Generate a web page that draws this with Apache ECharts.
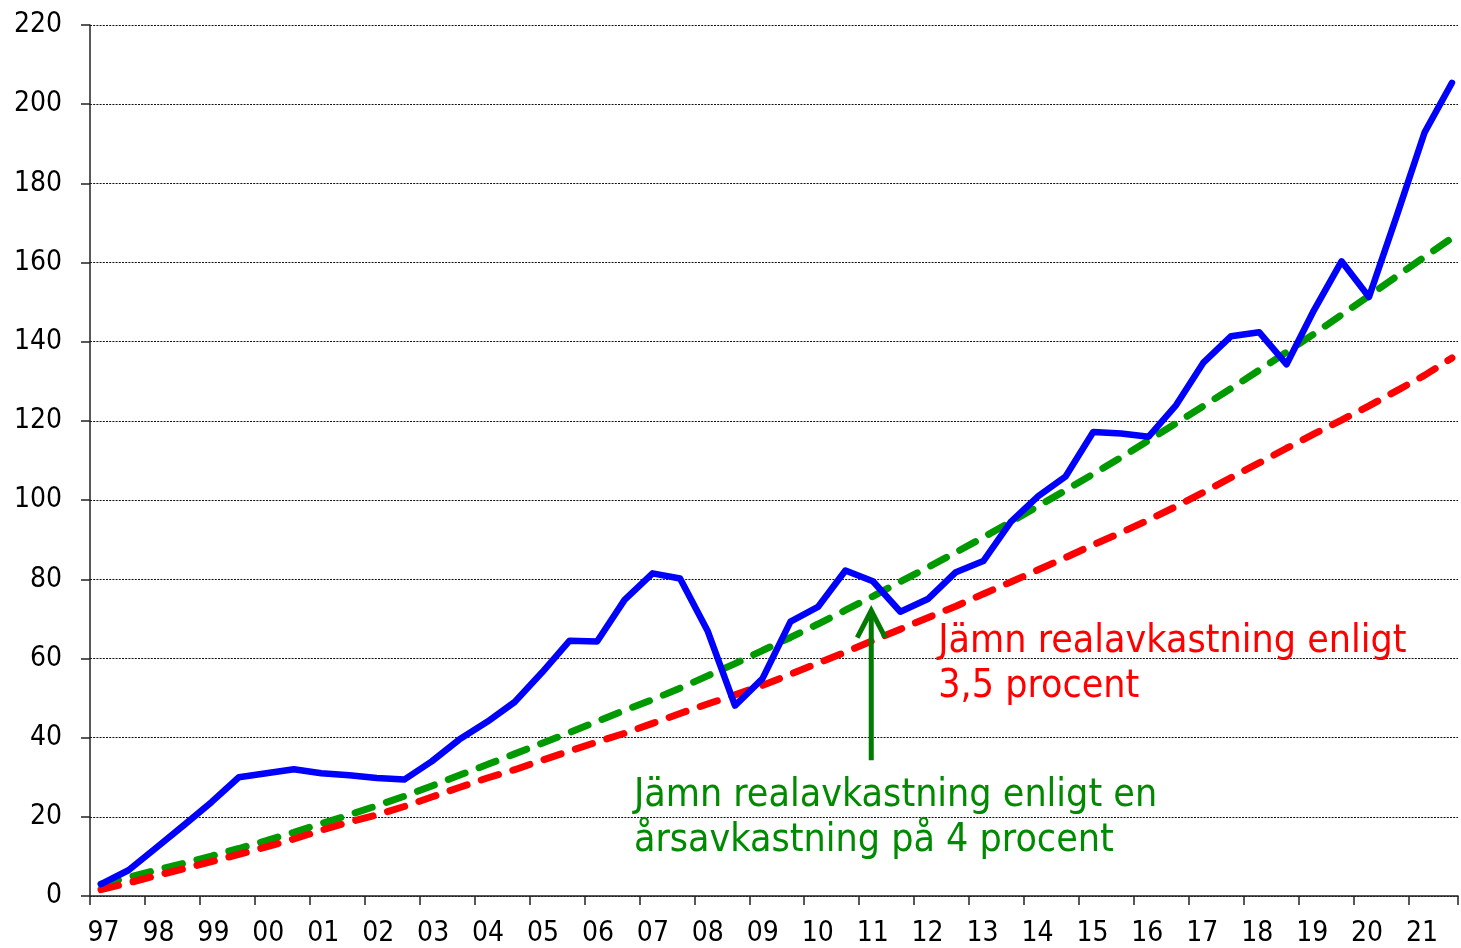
<!DOCTYPE html>
<html><head><meta charset="utf-8">
<script src="https://cdn.jsdelivr.net/npm/echarts@6/dist/echarts.min.js"></script>
<style>html,body{margin:0;padding:0;background:#fff}#c{width:1461px;height:948px}</style>
</head><body><div id="c"></div>
<script>
// Half-yearly observation times (decimal years)
const times = [1997.20,1997.70,1998.20,1998.71,1999.21,1999.71,2000.21,2000.71,2001.21,2001.72,
  2002.22,2002.72,2003.22,2003.72,2004.23,2004.73,2005.23,2005.73,2006.23,2006.73,
  2007.24,2007.74,2008.24,2008.74,2009.24,2009.75,2010.25,2010.75,2011.25,2011.75,
  2012.25,2012.76,2013.26,2013.76,2014.26,2014.76,2015.26,2015.77,2016.27,2016.77,
  2017.27,2017.77,2018.28,2018.78,2019.28,2019.78,2020.28,2020.78,2021.29,2021.79];
// Actual cumulative real return (blue)
const actual = [3.0,6.5,12.1,17.9,23.7,30.0,31.0,32.0,31.0,30.5,
  29.8,29.4,34.0,39.5,44.0,49.0,56.5,64.5,64.3,74.8,
  81.5,80.2,67.0,48.1,54.9,69.3,73.0,82.2,79.5,71.8,
  75.0,81.8,84.6,94.5,101.0,106.0,117.2,116.8,116.0,124.0,
  134.8,141.4,142.4,134.3,148.0,160.3,151.3,171.6,192.8,205.4];
// Even real return, 4 percent (green dashed)
const even4 = [3.0,4.7,6.5,8.3,10.1,12.0,14.0,16.1,18.3,20.5,
  22.8,25.2,27.8,30.5,33.2,35.9,38.6,41.3,44.1,46.9,
  49.6,52.5,55.6,58.7,62.0,65.3,68.7,72.2,75.7,79.4,
  83.0,86.8,90.6,94.5,98.5,102.5,106.6,110.8,115.1,119.4,
  123.8,128.2,132.8,137.4,142.0,146.8,151.6,156.5,161.4,166.2];
// Even real return, 3.5 percent (red dashed)
const even35 = [1.6,3.3,5.1,6.9,8.7,10.5,12.4,14.4,16.6,18.7,
  20.5,22.6,25.0,27.4,29.8,31.9,34.3,36.6,38.9,41.1,
  43.6,46.1,48.5,50.8,53.2,56.0,58.8,61.6,64.5,67.4,
  70.3,73.2,76.3,79.3,82.4,85.5,88.7,91.8,95.0,98.4,
  102.0,105.7,109.4,113.1,116.7,120.2,123.8,127.6,131.5,135.9];
const xTickLabels = ['97','98','99','00','01','02','03','04','05','06','07','08','09',
  '10','11','12','13','14','15','16','17','18','19','20','21'];
const yTickValues = [0,20,40,60,80,100,120,140,160,180,200,220];
const redText = 'Jämn realavkastning enligt\n3,5 procent';
const redTextAt = [2012.44, 58.4];
const greenText = 'Jämn realavkastning enligt en\nårsavkastning på 4 procent';
const greenTextAt = [2006.90, 19.6];
const arrowBase = [2011.22, 34.3];
const arrowTip = [2011.22, 72.1];

const FONT = "'DejaVu Sans Condensed','DejaVu Sans',sans-serif";
const chart = echarts.init(document.getElementById('c'), null, {renderer:'canvas'});
const pairs = arr => times.map((t,i)=>[t,arr[i]]);
chart.setOption({
  animation:false,
  backgroundColor:'#fff',
  grid:{left:90,right:0,top:25,bottom:50,containLabel:false},
  xAxis:{type:'value',min:1997,max:2021.9,interval:1,
    axisLine:{show:true,onZero:false,lineStyle:{color:'#222',width:1.5}},
    axisTick:{show:true,length:9,lineStyle:{color:'#222',width:1.5}},
    splitLine:{show:false},
    axisLabel:{fontFamily:FONT,fontSize:28,color:'#000',margin:24,padding:[0,0,0,27],
      formatter:v=>xTickLabels[Math.round(v-1997)]||''}},
  yAxis:{type:'value',min:yTickValues[0],max:yTickValues[yTickValues.length-1],interval:20,
    axisLine:{show:true,lineStyle:{color:'#222',width:1.5}},
    axisTick:{show:true,length:9,lineStyle:{color:'#222',width:1.5}},
    splitLine:{show:true,lineStyle:{color:'#111',width:1,type:[2,1.2]}},
    axisLabel:{fontFamily:FONT,fontSize:28,color:'#000',margin:28}},
  series:[
    {type:'line',data:pairs(even4),symbol:'none',z:2,
      lineStyle:{color:'#009a00',width:7,type:[18,15],cap:'round'}},
    {type:'line',data:pairs(even35),symbol:'none',z:3,
      lineStyle:{color:'#ff0000',width:7,type:[18,15],cap:'round'}},
    {type:'line',data:pairs(actual),symbol:'none',z:4,
      lineStyle:{color:'#0000ff',width:6.5,cap:'round',join:'round'}}
  ]
});
const b = chart.convertToPixel({gridIndex:0}, arrowBase);
const t = chart.convertToPixel({gridIndex:0}, arrowTip);
const rt = chart.convertToPixel({gridIndex:0}, redTextAt);
const gt = chart.convertToPixel({gridIndex:0}, greenTextAt);
chart.setOption({graphic:[
  {type:'line',z:10,shape:{x1:b[0],y1:b[1],x2:t[0],y2:t[1]+3},style:{stroke:'#007a00',lineWidth:5}},
  {type:'polyline',z:10,shape:{points:[[t[0]-14,t[1]+27],[t[0],t[1]],[t[0]+14,t[1]+27]]},
    style:{stroke:'#007a00',lineWidth:5,fill:null}},
  {type:'text',z:10,x:rt[0],y:rt[1],style:{text:redText,fill:'#ff0000',fontFamily:FONT,fontSize:39,
    lineHeight:45,align:'left',verticalAlign:'middle'}},
  {type:'text',z:10,x:gt[0],y:gt[1],style:{text:greenText,fill:'#008a00',fontFamily:FONT,fontSize:39,
    lineHeight:45,align:'left',verticalAlign:'middle'}}
]});
</script></body></html>
